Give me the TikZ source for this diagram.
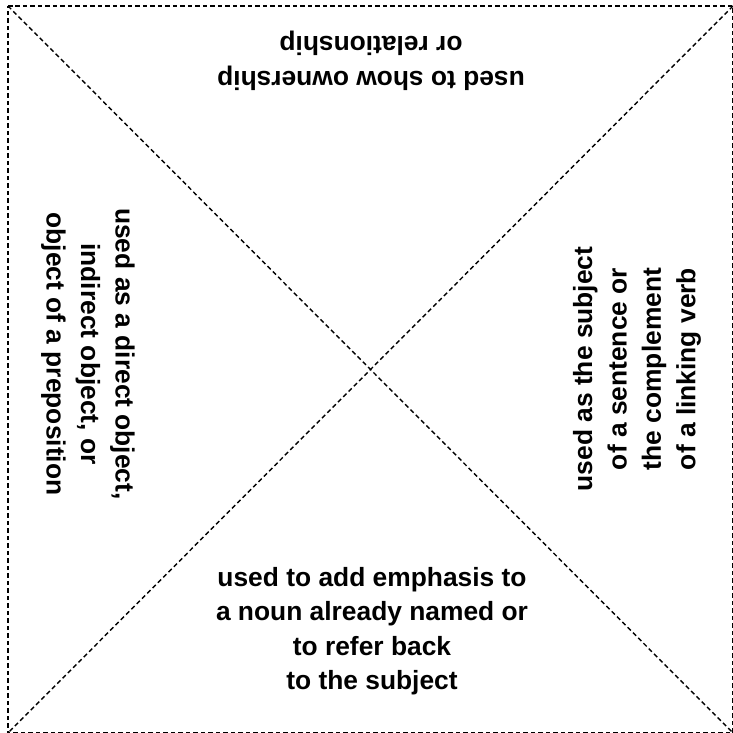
\documentclass[tikz,border=0pt]{standalone}
\usepackage{fontspec}
\setmainfont{Liberation Sans}
\usepackage{tikz}

\tikzset{fold/.style={dash pattern=on 0.045cm off 0.03cm, line width=0.4pt},
  flap/.style={align=center, font=\fontsize{7.5}{9.8}\selectfont\bfseries}}

\begin{document}
\begin{tikzpicture}
\useasboundingbox (0,0) rectangle (7.33,7.33);
\coordinate (tl) at (0.08,7.27);
\coordinate (tr) at (7.33,7.27);
\coordinate (bl) at (0.08,0.0);
\coordinate (br) at (7.33,0.0);
\draw [fold] (tl) -- (tr) -- (br) -- (bl) -- cycle;
\draw [fold] (tl) -- (br);
\draw [fold] (tr) -- (bl);
\node [flap, rotate=180] (own) at (3.71,6.72) {used to show ownership\\or relationship};
\node [flap, rotate=-90] (obj) at (0.88,3.79) {used as a direct object,\\indirect object, or\\object of a preposition};
\node [flap, rotate=90] (subj) at (6.37,3.64) {used as the subject\\of a sentence or\\the complement\\of a linking verb};
\node [flap] (emph) at (3.72,1.02) {used to add emphasis to\\a noun already named or\\to refer back\\to the subject};
\end{tikzpicture}
\end{document}
